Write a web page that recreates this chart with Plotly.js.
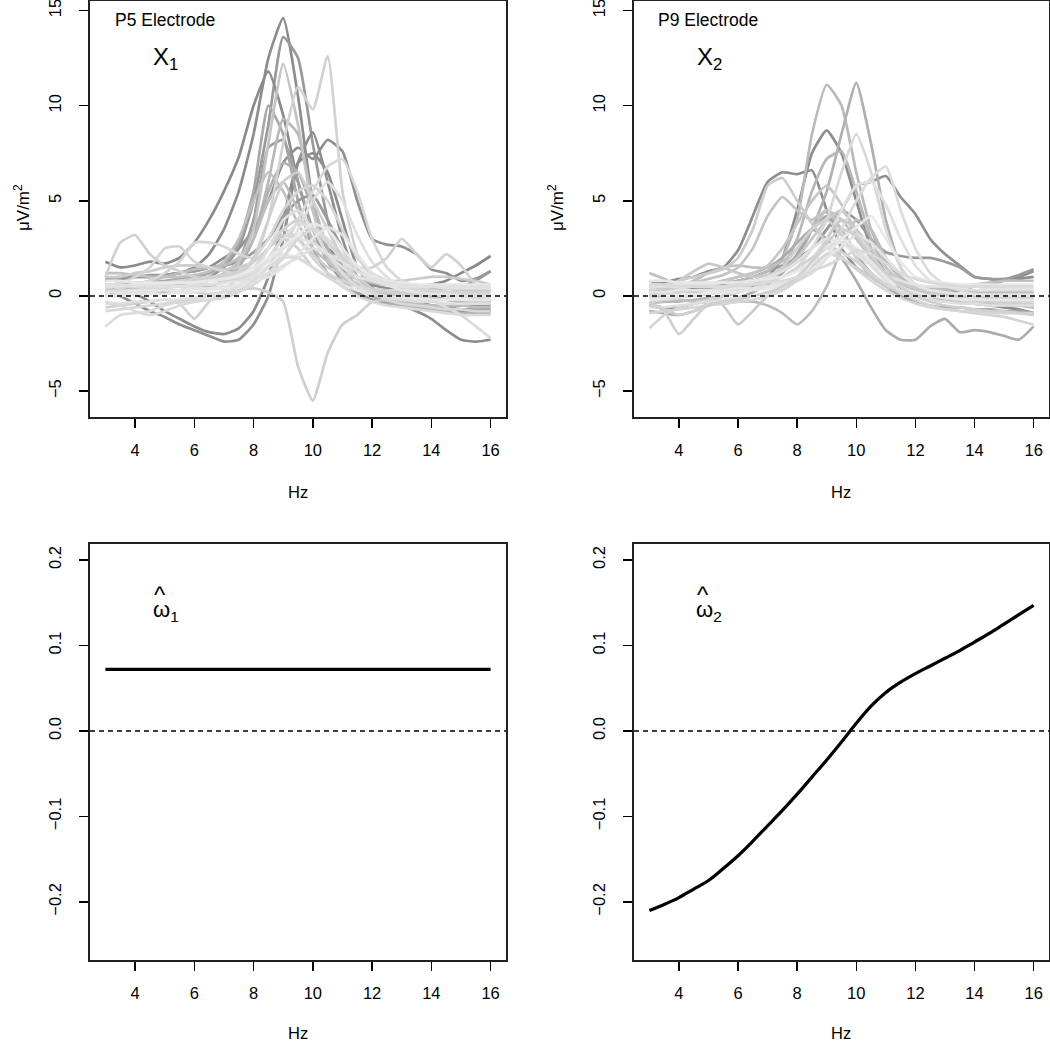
<!DOCTYPE html>
<html>
<head>
<meta charset="utf-8">
<script src="https://cdn.plot.ly/plotly-3.0.1.min.js"></script>
<style>html,body{margin:0;padding:0;background:#fff}#plot{width:1050px;height:1041px}</style>
</head>
<body>
<div id="plot"></div>
<script>
// Frequency grid (Hz)
const hz = [3,3.5,4,4.5,5,5.5,6,6.5,7,7.5,8,8.5,9,9.5,10,10.5,11,11.5,12,12.5,13,13.5,14,14.5,15,15.5,16];

// ---- P5 electrode curves (X1), µV/m^2 ----
const p5_a = [0.8,0.9,1.0,1.0,1.1,1.2,1.5,2.2,3.5,5.5,8.5,12.5,14.6,10.5,5.0,2.5,1.5,1.0,0.6,0.4,0.3,0.2,0.0,-0.2,-0.3,-0.4,-0.3];
const p5_b = [0.3,0.4,0.5,0.5,0.6,0.7,0.8,1.0,1.5,2.5,5.0,9.0,13.6,12.5,8.0,4.0,1.5,0.5,0.0,-0.2,-0.3,-0.4,-0.5,-0.6,-0.5,-0.5,-0.5];
const p5_c = [1.8,1.5,1.6,1.8,1.7,2.0,2.8,4.0,5.5,7.3,10.0,11.8,9.5,6.0,3.5,2.5,2.0,1.5,1.0,0.8,0.5,0.5,0.6,0.8,1.2,1.6,2.1];
const p5_d = [0.5,0.5,0.4,0.5,0.6,0.6,0.7,0.9,1.2,1.8,3.5,8.0,12.2,9.0,4.5,2.0,1.0,0.5,0.3,0.2,0.2,0.1,0.1,0.2,0.2,0.3,0.3];
const p5_e = [0.3,0.2,0.2,0.3,0.3,0.2,0.2,0.1,0.2,0.3,0.4,0.2,-0.3,-3.7,-5.5,-3.0,-1.5,-1.0,-0.3,-0.2,0.0,0.1,0.1,0.0,0.0,-0.1,-0.2];
const p5_f = [0.6,0.5,0.5,0.6,0.7,0.7,0.8,0.9,1.0,1.2,1.8,4.0,8.0,11.0,9.8,12.6,5.5,2.2,1.0,0.6,0.4,0.3,0.3,0.2,0.2,0.2,0.2];
const p5_g = [0.3,0.0,-0.4,-0.8,-1.1,-1.5,-1.8,-2.1,-2.4,-2.3,-1.5,0.0,3.0,7.0,8.6,6.0,3.0,1.0,0.3,0.0,-0.2,-0.3,-0.5,-0.8,-0.8,-0.7,-0.7];
const p5_h = [0.5,0.3,0.1,-0.3,-0.8,-1.2,-1.6,-1.9,-2.0,-1.7,-0.8,1.0,4.0,7.0,7.5,6.5,4.0,1.5,0.5,-0.3,-0.5,-0.8,-1.2,-1.8,-2.3,-2.4,-2.3];
const p5_i = [0.8,0.9,1.0,1.0,1.1,1.2,1.3,1.5,2.0,2.5,3.5,5.0,7.0,7.8,7.2,8.2,7.6,5.0,3.0,2.7,2.6,2.2,1.4,1.2,0.8,0.9,1.3];
const p5_j = [0.2,0.3,0.3,0.4,0.4,0.5,0.5,0.6,0.7,0.8,1.0,1.5,2.5,4.0,5.5,6.8,7.2,5.5,3.0,1.5,0.8,0.5,0.3,0.2,0.1,0.1,0.0];
const p5_k = [0.0,0.1,0.2,0.2,0.3,0.3,0.4,0.4,0.5,0.6,0.8,1.2,2.0,3.5,5.0,6.0,5.0,3.2,1.8,1.0,0.5,0.3,0.2,0.1,0.1,0.0,0.0];
const p5_l = [1.0,2.8,3.2,2.2,1.6,1.3,1.0,0.9,0.8,0.9,1.2,2.0,3.0,2.5,1.5,1.0,0.6,0.3,0.2,0.2,0.1,0.1,0.1,0.0,0.0,0.0,0.0];
const p5_m = [0.5,0.7,1.0,1.5,2.5,2.6,1.8,1.5,1.3,1.2,1.5,2.5,3.5,3.0,2.0,1.2,0.8,0.5,0.4,0.3,0.3,0.2,0.2,0.1,0.1,0.0,0.0];
const p5_n = [0.2,0.4,0.6,0.8,1.2,1.8,2.8,2.8,2.6,2.2,2.0,3.0,4.5,5.5,5.8,5.0,3.5,2.0,1.2,0.8,0.5,0.4,0.3,0.2,0.2,0.1,0.1];
const p5_o = [0.4,0.5,0.5,0.6,0.7,0.8,0.9,1.0,1.1,1.3,1.8,2.5,3.5,4.0,3.5,2.8,2.0,1.5,1.5,2.0,3.0,2.2,1.5,2.2,1.6,0.6,0.3];
const p5_p = [-1.6,-1.0,-0.9,-0.8,-0.5,-0.3,-0.2,0.0,0.2,0.5,1.0,2.0,3.0,3.8,3.6,3.0,2.2,1.5,1.0,0.8,0.5,0.2,-0.2,-0.6,-1.0,-1.6,-2.2];
const p5_q = [-0.6,-0.5,-0.4,-0.3,-0.2,-0.4,-1.2,-0.3,0.3,1.0,2.0,4.0,6.0,6.5,5.0,3.5,2.0,1.0,0.4,0.2,0.1,0.0,-0.1,-0.2,-0.2,-0.3,-0.3];
const p5_r = [0.6,0.6,0.7,0.7,0.8,0.9,1.0,1.2,1.6,2.8,5.5,10.0,8.5,5.0,2.5,1.2,0.5,0.1,-0.2,-0.4,-0.5,-0.6,-0.6,-0.7,-0.7,-0.8,-0.8];
const p5_s = [0.2,0.3,0.3,0.4,0.5,0.6,0.7,0.8,1.0,1.8,4.0,7.8,8.2,6.0,3.5,1.8,0.8,0.2,-0.2,-0.3,-0.4,-0.5,-0.5,-0.6,-0.7,-0.7,-0.8];
const p5_t = [0.3,0.3,0.4,0.4,0.5,0.5,0.6,0.8,1.0,1.5,3.0,6.0,9.3,8.5,5.0,2.5,1.2,0.6,0.3,0.1,0.0,-0.1,-0.2,-0.2,-0.3,-0.3,-0.3];
const p5_u = [0.9,1.0,1.0,1.1,1.1,1.2,1.3,1.5,1.6,1.8,2.3,3.0,4.2,5.0,5.3,4.0,2.5,1.5,1.0,0.8,0.6,0.5,0.4,0.4,0.5,0.8,1.3];
const p5_v = [0.0,0.1,0.1,0.2,0.2,0.3,0.4,0.5,0.8,1.5,3.0,5.5,7.0,6.5,4.5,2.5,1.2,0.5,0.0,-0.3,-0.5,-0.6,-0.7,-0.8,-0.9,-0.9,-0.9];
const p5_w = [1.2,1.2,1.1,1.0,1.0,1.0,1.1,1.3,1.8,3.0,5.0,6.5,5.5,3.8,2.5,1.8,1.2,0.9,0.7,0.6,0.5,0.5,0.4,0.4,0.3,0.3,0.3];
const p5_x1 = [0.5,0.5,0.6,0.6,0.6,0.7,0.7,0.8,0.9,1.0,1.3,1.8,2.5,3.0,2.8,2.2,1.5,1.0,0.8,0.6,0.5,0.5,0.5,0.4,0.4,0.4,0.4];
const p5_x2 = [0.0,0.0,0.1,0.1,0.1,0.2,0.2,0.3,0.4,0.6,1.0,1.6,2.2,2.0,1.5,1.0,0.6,0.3,0.1,0.0,-0.1,-0.1,-0.2,-0.2,-0.2,-0.2,-0.2];
const p5_x3 = [-0.4,-0.4,-0.3,-0.3,-0.2,-0.2,-0.1,0.0,0.2,0.5,1.2,2.5,4.0,4.5,3.5,2.2,1.2,0.5,0.1,-0.1,-0.2,-0.3,-0.3,-0.4,-0.4,-0.4,-0.4];
const p5_x4 = [0.8,0.8,0.7,0.7,0.7,0.7,0.7,0.8,0.9,1.1,1.5,2.0,2.6,3.2,3.8,3.5,2.5,1.6,1.0,0.8,0.7,0.6,0.6,0.6,0.6,0.6,0.6];
const p5_x5 = [-0.8,-0.7,-0.6,-0.5,-0.4,-0.3,-0.3,-0.2,-0.1,0.2,0.6,1.2,2.0,3.0,3.5,2.8,1.8,0.8,0.2,-0.2,-0.4,-0.5,-0.6,-0.7,-0.7,-0.8,-0.8];
const p5_x6 = [0.2,0.2,0.3,0.3,0.3,0.3,0.4,0.4,0.5,0.6,0.8,1.0,1.5,2.2,3.0,3.6,3.2,2.2,1.2,0.6,0.3,0.2,0.1,0.1,0.0,0.0,0.0];
const p5_x7 = [1.0,1.0,1.2,1.3,1.5,1.6,1.6,1.5,1.4,1.5,1.8,2.5,3.2,3.0,2.2,1.5,1.2,1.0,0.9,0.8,0.8,0.9,1.0,1.0,0.9,0.8,0.6];
const p5_x8 = [-0.3,-0.5,-0.8,-1.0,-0.8,-0.5,-0.3,-0.2,0.0,0.3,0.8,1.5,2.0,2.0,1.5,1.0,0.5,0.0,-0.3,-0.5,-0.6,-0.7,-0.8,-0.9,-1.0,-1.0,-1.0];
const p5_x9 = [0.6,0.6,0.5,0.5,0.5,0.5,0.6,0.6,0.7,0.8,1.0,1.2,1.6,2.0,2.5,2.2,1.8,1.3,0.9,0.7,0.6,0.5,0.5,0.5,0.5,0.5,0.5];
const p5_x10 = [0.5,0.6,0.6,0.8,1.0,1.2,1.4,1.5,1.6,2.0,3.0,5.0,6.0,4.5,3.0,2.0,1.2,0.6,0.2,-0.1,-0.3,-0.4,-0.5,-0.5,-0.5,-0.6,-0.6];

const p5Series = [p5_a,p5_b,p5_c,p5_g,p5_h,p5_i,p5_r,p5_s,p5_t,p5_u,p5_v,p5_w,p5_x10,p5_x7,
  p5_d,p5_e,p5_f,p5_j,p5_k,p5_l,p5_m,p5_n,p5_o,p5_p,p5_q,p5_x1,p5_x2,p5_x3,p5_x4,p5_x5,p5_x6,p5_x8,p5_x9];
const p5Greys = ['#8c8c8c','#999999','#8a8a8a','#8f8f8f','#8c8c8c','#909090','#a8a8a8','#a0a0a0','#b8b8b8','#9a9a9a','#b0b0b0','#c0c0c0','#bdbdbd','#cccccc',
  '#c4c4c4','#cfcfcf','#d2d2d2','#d8d8d8','#e0e0e0','#d0d0d0','#d4d4d4','#d6d6d6','#d2d2d2','#dcdcdc','#d0d0d0','#e2e2e2','#e6e6e6','#dedede','#e8e8e8','#d8d8d8','#e4e4e4','#dadada','#e0e0e0'];

// ---- P9 electrode curves (X2), µV/m^2 ----
const p9_a = [0.3,0.4,0.5,0.5,0.6,0.7,0.8,1.0,1.3,2.0,4.0,8.5,11.1,10.0,6.5,3.5,1.8,1.0,0.6,0.4,0.3,0.3,0.2,0.2,0.2,0.2,0.2];
const p9_b = [0.0,0.1,0.2,0.3,0.4,0.5,0.6,0.8,1.0,1.3,2.0,3.5,5.5,8.5,11.2,8.0,4.0,1.5,0.5,0.0,-0.2,-0.3,-0.4,-0.5,-0.5,-0.5,-0.6];
const p9_c = [-0.5,-0.6,-0.6,-0.4,-0.2,0.0,0.2,0.5,1.0,2.0,4.5,7.5,8.7,7.5,5.0,2.5,1.2,0.5,0.2,0.0,-0.2,-0.3,-0.4,-0.5,-0.6,-0.7,-0.9];
const p9_d = [0.5,0.7,0.9,1.0,1.3,1.5,2.4,4.2,6.0,6.5,6.4,6.6,4.5,2.5,1.5,1.0,0.6,0.4,0.3,0.2,0.2,0.3,0.5,0.6,0.8,0.9,1.0];
const p9_e = [0.2,0.3,0.3,0.4,0.5,0.6,0.7,0.8,1.0,1.3,1.8,2.5,3.5,4.5,5.8,6.0,6.3,5.2,4.3,3.0,2.2,1.6,1.0,0.9,0.8,1.0,1.3];
const p9_f = [0.8,0.6,0.4,0.3,0.4,0.6,0.8,1.0,1.3,1.6,2.0,2.5,3.5,4.5,4.0,3.0,2.3,2.1,2.0,2.0,1.8,1.5,1.0,0.9,0.9,1.1,1.4];
const p9_g = [0.3,0.5,0.8,1.0,1.2,1.4,2.0,3.5,5.8,6.2,5.0,3.8,2.8,2.0,1.5,1.0,0.6,0.3,0.1,0.0,-0.1,-0.2,-0.2,-0.3,-0.3,-0.4,-0.4];
const p9_h = [0.2,0.3,0.5,0.7,0.9,1.1,1.5,2.5,4.2,5.2,4.5,4.0,4.5,3.5,2.0,1.0,0.5,0.2,0.0,-0.2,-0.3,-0.3,-0.4,-0.4,-0.5,-0.5,-0.5];
const p9_i = [0.0,0.1,0.2,0.2,0.3,0.4,0.5,0.6,0.8,1.0,1.5,2.5,4.0,6.5,8.5,6.5,3.5,1.5,0.6,0.2,0.0,-0.1,-0.2,-0.2,-0.3,-0.3,-0.3];
const p9_j = [-0.3,-0.2,-0.1,0.0,0.1,0.2,0.3,0.4,0.5,0.6,0.8,1.2,2.0,3.5,5.0,6.2,6.8,4.5,2.5,1.2,0.6,0.3,0.1,0.0,-0.1,-0.2,-0.3];
const p9_k = [0.4,0.4,0.4,0.5,0.5,0.5,0.6,0.7,0.8,1.0,1.4,2.0,3.0,4.5,5.8,6.0,4.8,3.0,1.6,0.8,0.5,0.4,0.3,0.3,0.3,0.3,0.3];
const p9_l = [-0.4,-0.3,-0.3,-0.2,-0.1,0.0,0.2,0.4,0.8,1.5,3.0,5.5,7.2,7.6,5.5,3.0,1.5,0.7,0.3,0.1,0.0,-0.1,-0.2,-0.3,-0.3,-0.4,-0.4];
const p9_m = [-0.3,-0.8,-2.0,-1.2,-0.4,0.0,0.3,0.6,1.0,1.5,2.5,3.5,4.0,3.2,2.0,1.2,0.6,0.3,0.1,0.0,-0.1,-0.2,-0.3,-0.3,-0.4,-0.4,-0.5];
const p9_n = [0.5,0.4,0.3,0.2,0.0,-0.5,-1.5,-0.8,0.0,0.5,0.8,1.5,3.0,4.0,3.5,2.5,1.5,0.8,0.4,0.2,0.1,0.0,0.0,-0.1,-0.1,-0.2,-0.2];
const p9_o = [0.0,-0.1,-0.2,-0.3,-0.4,-0.4,-0.3,-0.3,-0.5,-0.9,-1.5,-0.8,0.5,2.5,4.0,3.5,2.0,1.0,0.4,0.0,-0.2,-0.3,-0.4,-0.4,-0.5,-0.5,-0.6];
const p9_p = [0.3,0.3,0.4,0.5,0.6,0.8,1.0,1.2,1.5,2.0,2.8,3.5,3.0,2.0,0.8,-0.6,-1.8,-2.3,-2.3,-1.6,-1.2,-1.9,-1.8,-1.9,-2.1,-2.3,-1.6];
const p9_q = [-1.7,-1.0,-0.6,-0.4,-0.2,0.0,0.2,0.4,0.7,1.0,1.5,2.0,2.5,2.3,1.8,1.2,0.6,0.2,-0.2,-0.5,-0.7,-0.8,-0.9,-1.0,-1.1,-1.3,-1.5];
const p9_r = [1.2,0.9,0.5,0.8,1.2,1.5,1.6,1.5,1.5,1.8,2.5,3.5,4.5,4.0,3.0,2.0,1.2,0.8,0.5,0.4,0.4,0.5,0.6,0.7,0.8,0.8,0.8];
const p9_s = [0.0,0.3,0.8,1.3,1.7,1.5,1.2,1.0,1.1,1.4,2.0,3.0,4.0,4.5,3.5,2.5,1.5,0.8,0.4,0.2,0.1,0.1,0.0,0.0,0.0,-0.1,-0.1];
const p9_x1 = [0.5,0.5,0.6,0.6,0.6,0.7,0.7,0.8,1.0,1.3,1.8,2.5,3.0,2.8,2.2,1.6,1.1,0.8,0.6,0.5,0.5,0.5,0.5,0.4,0.4,0.4,0.4];
const p9_x2 = [-0.2,-0.1,0.0,0.1,0.1,0.2,0.2,0.3,0.4,0.6,1.0,1.8,2.6,3.0,2.5,1.8,1.0,0.5,0.2,0.0,-0.1,-0.2,-0.2,-0.2,-0.2,-0.2,-0.2];
const p9_x3 = [-0.6,-0.6,-0.5,-0.4,-0.3,-0.2,-0.1,0.0,0.2,0.5,1.0,1.8,2.5,2.8,2.4,1.6,0.8,0.3,0.0,-0.2,-0.3,-0.4,-0.4,-0.5,-0.5,-0.5,-0.5];
const p9_x4 = [0.8,0.8,0.7,0.7,0.7,0.7,0.7,0.8,0.9,1.0,1.3,1.7,2.2,3.0,3.6,4.2,3.0,1.8,1.0,0.8,0.7,0.6,0.6,0.6,0.6,0.6,0.6];
const p9_x5 = [-0.9,-0.8,-0.7,-0.6,-0.5,-0.4,-0.3,-0.2,0.0,0.3,0.8,1.5,2.2,2.0,1.4,0.8,0.3,-0.1,-0.4,-0.6,-0.7,-0.8,-0.8,-0.9,-0.9,-0.9,-0.9];
const p9_x6 = [0.2,0.2,0.3,0.3,0.3,0.3,0.4,0.4,0.5,0.7,1.0,1.4,2.0,2.6,3.2,2.8,2.0,1.2,0.6,0.3,0.2,0.1,0.1,0.0,0.0,0.0,0.0];
const p9_x7 = [-0.5,-0.7,-1.0,-0.8,-0.5,-0.3,-0.2,0.0,0.2,0.5,1.0,1.8,2.8,3.5,3.2,2.2,1.2,0.5,0.0,-0.3,-0.5,-0.6,-0.7,-0.8,-0.8,-0.9,-1.0];
const p9_x8 = [0.6,0.6,0.5,0.5,0.5,0.5,0.6,0.6,0.7,0.8,1.0,1.3,1.6,2.0,2.4,2.2,1.7,1.2,0.9,0.7,0.6,0.5,0.5,0.5,0.5,0.5,0.5];
const p9_x9 = [-0.8,-0.9,-1.0,-0.8,-0.5,-0.3,-0.1,0.2,0.6,1.2,2.2,3.5,4.2,3.5,2.2,1.2,0.5,0.0,-0.3,-0.5,-0.6,-0.6,-0.7,-0.7,-0.8,-0.8,-0.9];
const p9_x10 = [0.3,0.3,0.4,0.5,0.6,0.8,1.0,1.2,1.6,2.5,3.8,5.0,5.8,4.8,3.2,2.0,1.2,0.7,0.4,0.2,0.1,0.1,0.0,0.0,0.0,0.0,0.0];

const p9Series = [p9_c,p9_d,p9_e,p9_f,p9_a,p9_b,p9_l,p9_p,p9_o,p9_x9,p9_r,p9_h,p9_s,p9_x10,
  p9_g,p9_i,p9_j,p9_k,p9_m,p9_n,p9_q,p9_x1,p9_x2,p9_x3,p9_x4,p9_x5,p9_x6,p9_x7,p9_x8];
const p9Greys = ['#8c8c8c','#8e8e8e','#909090','#9a9a9a','#bababa','#b0b0b0','#b8b8b8','#acacac','#bdbdbd','#a8a8a8','#c0c0c0','#c4c4c4','#c8c8c8','#c6c6c6',
  '#cccccc','#d8d8d8','#dcdcdc','#e0e0e0','#d0d0d0','#cacaca','#d4d4d4','#e2e2e2','#e6e6e6','#dedede','#e8e8e8','#d6d6d6','#e4e4e4','#d0d0d0','#dadada'];

// ---- Estimated weight functions ----
const omega1 = [0.072,0.072,0.072,0.072,0.072,0.072,0.072,0.072,0.072,0.072,0.072,0.072,0.072,0.072,0.072,0.072,0.072,0.072,0.072,0.072,0.072,0.072,0.072,0.072,0.072,0.072,0.072];
const omega2 = [-0.210,-0.203,-0.195,-0.185,-0.175,-0.161,-0.146,-0.129,-0.111,-0.093,-0.074,-0.054,-0.034,-0.013,0.009,0.029,0.045,0.057,0.067,0.076,0.085,0.094,0.104,0.114,0.125,0.136,0.147];

const topTicks = [-5,0,5,10,15];
const botTicks = [-0.2,-0.1,0.0,0.1,0.2];
const xTicks = [4,6,8,10,12,14,16];

const W = 1050, H = 1041;
const px = v => v / W;
const py = v => 1 - v / H;

const traces = [];
function addCurves(series, greys, xa, ya) {
  series.forEach((s, i) => traces.push({
    x: hz, y: s, xaxis: xa, yaxis: ya, type: 'scatter', mode: 'lines',
    line: {color: greys[i], width: 2.7, shape: 'spline', smoothing: 0.5},
    hoverinfo: 'skip', showlegend: false
  }));
}
addCurves(p5Series, p5Greys, 'x', 'y');
addCurves(p9Series, p9Greys, 'x2', 'y2');
traces.push({x: hz, y: omega1, xaxis: 'x3', yaxis: 'y3', type: 'scatter', mode: 'lines',
  line: {color: '#000', width: 3.2}, showlegend: false});
traces.push({x: hz, y: omega2, xaxis: 'x4', yaxis: 'y4', type: 'scatter', mode: 'lines',
  line: {color: '#000', width: 3.2, shape: 'spline', smoothing: 1}, showlegend: false});

const font = {family: 'Liberation Sans, Arial, sans-serif', color: '#000', size: 16.5};
function xAxis(domain, anchor) {
  return {domain: domain, anchor: anchor, range: [2.48, 16.52], tickvals: xTicks,
    ticks: 'outside', ticklen: 9, tickwidth: 1.5, tickcolor: '#000', ticklabelstandoff: 9,
    showline: true, mirror: true, linecolor: '#222', linewidth: 1.6,
    showgrid: false, zeroline: false, tickfont: font, fixedrange: true};
}
function yAxis(domain, anchor, range, tv, fmt) {
  return {domain: domain, anchor: anchor, range: range, tickvals: tv, tickformat: fmt,
    ticks: 'outside', ticklen: 9, tickwidth: 1.5, tickcolor: '#000', tickangle: -90, ticklabelstandoff: 12,
    ticklabeloverflow: 'allow',
    showline: true, mirror: true, linecolor: '#222', linewidth: 1.6,
    showgrid: false, zeroline: false, tickfont: font, fixedrange: true};
}

const topY = [py(417), py(1)];
const botY = [py(960), py(544)];
const leftX = [px(90), px(506)];
const rightX = [px(634), px(1049)];

function note(text, x, y, size, extra) {
  return Object.assign({text: text, x: px(x), y: py(y), xref: 'paper', yref: 'paper',
    xanchor: 'center', yanchor: 'middle', showarrow: false, font: {...font, size: size}}, extra || {});
}

const layout = {
  width: W, height: H, margin: {l: 0, r: 0, t: 0, b: 0},
  paper_bgcolor: '#fff', plot_bgcolor: '#fff', showlegend: false, font: font,
  xaxis: xAxis(leftX, 'y'), yaxis: yAxis(topY, 'x', [-6.36, 15.5], topTicks, 'd'),
  xaxis2: xAxis(rightX, 'y2'), yaxis2: yAxis(topY, 'x2', [-6.36, 15.5], topTicks, 'd'),
  xaxis3: xAxis(leftX, 'y3'), yaxis3: yAxis(botY, 'x3', [-0.268, 0.2187], botTicks, '.1f'),
  xaxis4: xAxis(rightX, 'y4'), yaxis4: yAxis(botY, 'x4', [-0.268, 0.2187], botTicks, '.1f'),
  shapes: ['x','x2','x3','x4'].map((xa, i) => ({
    type: 'line', xref: xa + ' domain', yref: ['y','y2','y3','y4'][i], x0: 0, x1: 1, y0: 0, y1: 0,
    line: {color: '#000', width: 1.6, dash: '5px,4px'}, layer: 'above'
  })),
  annotations: [
    note('P5 Electrode', 165, 20, 17.5),
    note('P9 Electrode', 708, 20, 17.5),
    note('X<sub>1</sub>', 151, 59, 24, {xanchor: 'left'}),
    note('X<sub>2</sub>', 695, 59, 24, {xanchor: 'left'}),
    note('\u03c9<sub>1</sub>', 151, 611, 22, {xanchor: 'left'}),
    note('\u03c9<sub>2</sub>', 694, 611, 22, {xanchor: 'left'}),
    note('^', 160, 594, 24),
    note('^', 703, 594, 24),
    note('Hz', 298, 492, 16.5),
    note('Hz', 841, 492, 16.5),
    note('Hz', 298, 1033, 16.5),
    note('Hz', 841, 1033, 16.5),
    note('\u03bcV/m<sup>2</sup>', 22, 208, 17, {textangle: -90}),
    note('\u03bcV/m<sup>2</sup>', 556, 208, 17, {textangle: -90})
  ]
};

Plotly.newPlot('plot', traces, layout, {staticPlot: true, displayModeBar: false});
</script>
</body>
</html>
